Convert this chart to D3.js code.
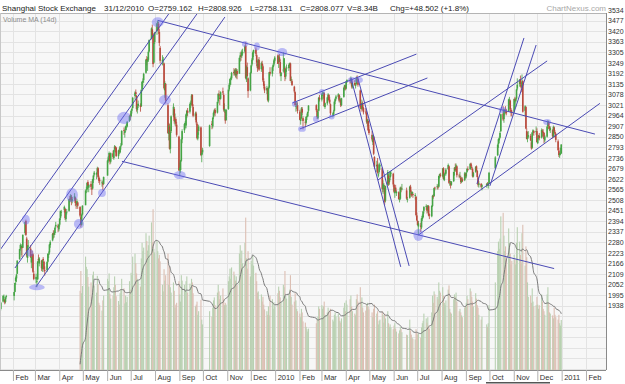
<!DOCTYPE html>
<html>
<head>
<meta charset="utf-8">
<script src="https://cdn.jsdelivr.net/npm/d3@7"></script>
<style>
body { margin: 0; background: #fff; }
svg { display: block; font-family: "Liberation Sans", Arial, sans-serif; }
</style>
</head>
<body>
<svg id="chart" width="625" height="384"></svg>
<script>
'use strict';

const title = 'Shanghai Stock Exchange';
const quote = ['31/12/2010', 'O=2759.162', 'H=2808.926', 'L=2758.131', 'C=2808.077', 'V=8.34B', 'Chg=+48.502 (+1.8%)'];
const brand = 'ChartNexus.com';
const volumeLabel = 'Volume MA (14d)';

// days the exchange was shut (besides weekends)
const holidays = [
    '2009-01-01', '2009-01-02', '2009-01-26', '2009-01-27', '2009-01-28', '2009-01-29', '2009-01-30',
    '2009-04-06', '2009-05-01', '2009-05-28', '2009-05-29',
    '2009-10-01', '2009-10-02', '2009-10-05', '2009-10-06', '2009-10-07', '2009-10-08',
    '2010-01-01', '2010-02-15', '2010-02-16', '2010-02-17', '2010-02-18', '2010-02-19',
    '2010-04-05', '2010-05-03', '2010-06-14', '2010-06-15', '2010-06-16',
    '2010-09-22', '2010-09-23', '2010-09-24',
    '2010-10-01', '2010-10-04', '2010-10-05', '2010-10-06', '2010-10-07'
];

// daily [open, high, low, close], one row per month (Jan 2009 starts on the 15th)
const prices2009 = [
    [[1935,1944,1905,1921],[1920,1958,1912,1954],[1960,1995,1955,1990],[1985,1998,1970,1986],[1970,1975,1945,1955],[1958,1985,1950,1981],[1985,1996,1976,1990]],
    [[1990,2012,1966,2011],[2012,2062,2010,2060],[2070,2095,2050,2088],[2085,2110,2065,2105],[2110,2182,2108,2181],[2190,2245,2185,2243],[2245,2274,2235,2265],[2250,2270,2210,2260],[2255,2262,2200,2248],[2250,2322,2250,2320],
     [2330,2390,2320,2389],[2395,2402,2314,2320],[2300,2310,2200,2209],[2195,2265,2170,2261],[2262,2292,2240,2262],[2245,2265,2195,2201],[2170,2215,2140,2200],[2215,2235,2180,2206],[2215,2220,2115,2121],[2110,2125,2075,2082]],
    [[2080,2110,2060,2093],[2070,2085,2037,2071],[2080,2180,2075,2176],[2190,2214,2170,2183],[2165,2200,2150,2193],[2180,2185,2125,2140],[2135,2185,2120,2183],[2190,2200,2165,2182],[2175,2180,2120,2133],[2130,2150,2100,2128],
     [2130,2178,2120,2173],[2175,2220,2170,2218],[2215,2230,2195,2217],[2225,2270,2215,2268],[2265,2290,2250,2281],[2290,2330,2285,2325],[2330,2345,2300,2320],[2320,2340,2305,2331],[2330,2365,2320,2358],[2365,2390,2355,2374],[2370,2380,2335,2359],[2350,2378,2340,2373]],
    [[2375,2410,2365,2408],[2410,2450,2400,2449],[2440,2455,2420,2444],[2455,2478,2440,2471],[2460,2465,2400,2410],[2405,2445,2390,2442],[2445,2460,2430,2445],[2450,2515,2445,2513],[2515,2530,2495,2514],[2510,2540,2500,2532],
     [2525,2535,2480,2505],[2505,2525,2490,2512],[2515,2545,2505,2528],[2520,2525,2475,2492],[2490,2500,2460,2483],[2485,2515,2470,2502],[2495,2500,2460,2477],[2470,2475,2415,2424],[2415,2425,2360,2374],[2375,2435,2370,2429],[2430,2480,2425,2477]],
    [[2480,2560,2480,2560],[2565,2580,2545,2567],[2565,2605,2550,2600],[2605,2615,2570,2584],[2575,2595,2550,2590],[2595,2610,2565,2579],[2570,2580,2535,2568],[2570,2622,2565,2620],[2615,2645,2600,2640],[2645,2665,2635,2656],
     [2645,2660,2620,2654],[2660,2688,2650,2680],[2680,2685,2625,2633],[2630,2640,2600,2612],[2615,2625,2590,2610],[2600,2615,2580,2603],[2600,2610,2560,2592],[2595,2635,2590,2632]],
    [[2640,2725,2640,2721],[2720,2745,2710,2738],[2740,2770,2730,2762],[2755,2760,2700,2716],[2715,2765,2705,2761],[2760,2775,2730,2741],[2735,2780,2725,2777],[2780,2805,2770,2797],[2795,2800,2765,2787],[2790,2795,2740,2746],
     [2745,2780,2730,2776],[2775,2790,2755,2770],[2765,2800,2760,2797],[2800,2815,2780,2802],[2805,2885,2800,2881],[2885,2900,2860,2881],[2870,2890,2845,2880],[2885,2910,2875,2906],[2905,2920,2885,2905],[2905,2935,2900,2930],[2935,2965,2930,2962],[2965,2975,2940,2959]],
    [[2960,2995,2955,2989],[2990,3005,2975,3000],[3005,3065,3000,3060],[3070,3095,3050,3088],[3090,3105,3065,3080],[3070,3075,2985,2999],[2995,3025,2975,3013],[3015,3045,3005,3028],[3020,3030,2985,3011],[3015,3105,3010,3103],
     [3105,3150,3095,3146],[3145,3165,3120,3152],[3155,3195,3140,3189],[3195,3270,3190,3266],[3270,3285,3235,3262],[3255,3280,3205,3266],[3265,3315,3255,3308],[3310,3375,3305,3372],[3380,3440,3375,3435],[3430,3455,3385,3398],[3400,3410,3225,3242],[3250,3365,3245,3357],[3360,3415,3350,3412]],
    [[3420,3465,3400,3462],[3465,3478,3425,3471],[3460,3470,3405,3428],[3415,3430,3340,3356],[3330,3340,3245,3260],[3255,3290,3235,3265],[3260,3280,3240,3266],[3245,3250,3105,3112],[3100,3150,3060,3140],[3135,3140,3030,3046],
     [3020,3030,2865,2870],[2865,2925,2830,2910],[2905,2920,2780,2785],[2785,2885,2760,2876],[2880,2965,2870,2960],[2965,3030,2955,3012],[3000,3010,2920,2934],[2930,2975,2910,2940],[2945,2955,2905,2920],[2915,2930,2850,2860],[2850,2855,2665,2668]],
    [[2670,2710,2639,2683],[2670,2725,2655,2721],[2720,2840,2715,2836],[2835,2890,2815,2880],[2885,2925,2870,2918],[2915,2935,2895,2923],[2910,2975,2895,2970],[2965,2995,2950,2990],[2990,3005,2960,2979],[2985,3035,2975,3026],
     [3025,3045,3005,3034],[3035,3080,3020,3072],[3075,3080,3010,3016],[3010,3025,2955,2963],[2960,2985,2940,2976],[2975,2985,2915,2927],[2920,2930,2835,2842],[2840,2890,2830,2874],[2880,2915,2860,2905],[2900,2905,2745,2751],[2750,2775,2712,2763],[2765,2790,2755,2779]],
    [[2800,2915,2795,2911],[2920,2935,2890,2913],[2905,2955,2895,2953],[2955,2985,2945,2979],[2980,3000,2965,2993],[2995,3005,2960,2976],[2980,3040,2975,3038],[3040,3085,3030,3081],[3080,3100,3060,3073],[3060,3075,3020,3054],
     [3055,3095,3050,3090],[3095,3115,3075,3088],[3075,3085,2985,2996],[2990,3030,2980,3000],[2985,2995,2920,2937],[2940,3000,2935,2995]],
    [[3000,3105,2995,3104],[3105,3140,3095,3130],[3130,3165,3120,3161],[3160,3175,3130,3166],[3165,3200,3155,3195],[3200,3220,3180,3193],[3190,3215,3180,3209],[3210,3220,3170,3183],[3180,3220,3165,3212],[3205,3215,3160,3187],
     [3190,3280,3190,3275],[3280,3305,3255,3289],[3290,3310,3260,3283],[3285,3320,3275,3308],[3300,3325,3290,3308],[3310,3345,3300,3338],[3340,3361,3160,3167],[3160,3235,3145,3228],[3225,3250,3170,3178],[3165,3170,3060,3096],[3100,3200,3095,3195]],
    [[3195,3240,3190,3235],[3240,3275,3230,3266],[3265,3310,3260,3305],[3300,3320,3280,3318],[3320,3332,3285,3298],[3290,3300,3230,3250],[3245,3260,3200,3220],[3225,3270,3215,3266],[3265,3280,3205,3212],[3215,3255,3200,3247],
     [3245,3260,3210,3233],[3230,3240,3145,3154],[3150,3165,3110,3125],[3120,3135,3085,3100],[3100,3125,3080,3113],[3110,3115,3040,3049],[3045,3120,3035,3114],[3115,3200,3110,3198],[3200,3225,3180,3190],[3190,3230,3175,3225],[3225,3245,3205,3238],[3240,3270,3230,3262],[3260,3285,3250,3277]]
];

const prices2010 = [
    [[3289,3295,3243,3243],[3254,3290,3221,3282],[3278,3296,3253,3255],[3253,3268,3176,3192],[3177,3198,3150,3196],[3211,3306,3197,3212],[3215,3275,3195,3273],[3220,3230,3150,3172],[3175,3215,3160,3215],[3218,3240,3200,3224],
     [3220,3245,3205,3237],[3237,3250,3220,3246],[3245,3250,3150,3151],[3155,3175,3140,3159],[3150,3160,3125,3128],[3120,3125,3085,3094],[3090,3095,3020,3020],[3015,3040,2985,3016],[3020,3040,3000,3024],[3020,3035,2975,2989]],
    [[2985,2995,2940,2941],[2935,2955,2915,2948],[2950,3010,2945,3003],[3000,3010,2965,2980],[2950,2960,2890,2935],[2930,2945,2900,2929],[2925,2960,2915,2957],[2960,2975,2940,2961],[2960,2985,2955,2985],[2990,3020,2980,3018],
     [3020,3025,2985,2993],[2990,3000,2945,2956],[2950,2995,2945,2985],[2990,3065,2985,3060],[3060,3075,3040,3051]],
    [[3050,3085,3040,3080],[3085,3095,3070,3087],[3080,3090,3055,3088],[3085,3090,3010,3015],[3010,3035,3000,3031],[3030,3065,3020,3062],[3060,3085,3050,3077],[3075,3080,3040,3047],[3050,3065,3025,3034],[3025,3030,2965,2976],
     [2970,2980,2955,2974],[2970,2995,2960,2986],[2990,3045,2985,3039],[3040,3060,3025,3054],[3055,3075,3045,3067],[3065,3085,3055,3079],[3075,3080,3035,3045],[3050,3070,3035,3056],[3050,3055,3010,3019],[3020,3060,3015,3057],[3065,3120,3060,3114],[3115,3130,3100,3128],[3125,3130,3100,3109]],
    [[3110,3150,3105,3148],[3150,3160,3140,3156],[3155,3165,3135,3150],[3150,3175,3140,3161],[3160,3165,3110,3121],[3120,3145,3110,3140],[3140,3155,3125,3130],[3125,3140,3110,3130],[3135,3175,3130,3166],[3170,3181,3155,3164],
     [3160,3165,3120,3130],[3100,3105,3000,3007],[3005,3020,2985,3001],[3000,3050,2995,3033],[3030,3040,2990,3004],[3005,3010,2970,2982],[2985,3005,2970,2981],[2980,2990,2920,2931],[2925,2945,2905,2942],[2935,2945,2880,2885],[2890,2915,2860,2870]],
    [[2860,2880,2825,2835],[2820,2860,2805,2857],[2850,2855,2750,2758],[2740,2745,2675,2688],[2690,2720,2660,2698],[2700,2735,2650,2656],[2640,2660,2630,2647],[2660,2710,2650,2700],[2690,2705,2670,2696],[2680,2685,2550,2568],
     [2565,2615,2540,2593],[2580,2600,2550,2587],[2575,2590,2481,2500],[2505,2585,2495,2583],[2590,2670,2585,2659],[2640,2650,2585,2597],[2605,2630,2590,2625],[2630,2665,2615,2660],[2655,2665,2635,2655],[2650,2655,2580,2592]],
    [[2590,2595,2545,2553],[2545,2575,2520,2571],[2575,2590,2550,2553],[2545,2560,2530,2553],[2550,2555,2510,2513],[2510,2525,2495,2513],[2515,2580,2510,2575],[2570,2580,2550,2569],[2570,2595,2560,2570],[2560,2575,2510,2516],
     [2510,2525,2495,2514],[2520,2585,2515,2580],[2580,2590,2550,2553],[2550,2560,2525,2533],[2540,2555,2530,2552],[2540,2550,2520,2535],[2530,2545,2510,2535],[2525,2530,2420,2427],[2425,2440,2395,2398]],
    [[2395,2400,2370,2373],[2365,2395,2319,2382],[2370,2385,2335,2364],[2360,2410,2350,2409],[2405,2430,2395,2422],[2415,2450,2410,2446],[2450,2475,2435,2470],[2470,2485,2455,2475],[2470,2480,2435,2450],[2455,2480,2440,2478],
     [2475,2480,2420,2425],[2430,2435,2405,2424],[2420,2480,2415,2476],[2475,2535,2470,2531],[2530,2540,2515,2527],[2530,2575,2525,2572],[2575,2580,2560,2572],[2580,2595,2565,2582],[2580,2590,2565,2576],[2580,2640,2575,2638],[2640,2650,2625,2647],[2645,2655,2630,2638]],
    [[2635,2680,2630,2679],[2680,2685,2620,2620],[2615,2650,2610,2648],[2650,2660,2640,2653],[2650,2680,2640,2672],[2675,2705,2670,2697],[2690,2695,2595,2601],[2605,2620,2585,2611],[2600,2610,2570,2588],[2590,2610,2585,2608],
     [2610,2660,2605,2661],[2665,2685,2640,2683],[2685,2705,2660,2670],[2675,2705,2665,2695],[2690,2695,2630,2642],[2640,2650,2625,2636],[2635,2660,2630,2636],[2630,2640,2595,2605],[2605,2630,2600,2619],[2620,2630,2605,2610],[2615,2660,2610,2652],[2650,2655,2625,2638]],
    [[2635,2660,2625,2656],[2660,2680,2655,2677],[2675,2690,2665,2671],[2675,2705,2670,2704],[2705,2710,2680,2689],[2685,2695,2670,2680],[2675,2680,2630,2636],[2635,2660,2630,2656],[2660,2690,2655,2688],[2690,2695,2665,2667],
     [2665,2670,2630,2632],[2630,2635,2580,2590],[2590,2610,2575,2598],[2595,2600,2570,2579],[2580,2595,2560,2588],[2590,2600,2575,2594],[2595,2605,2585,2588],[2585,2600,2570,2599],[2600,2660,2600,2655]],
    [[2680,2745,2675,2738],[2750,2812,2745,2806],[2810,2840,2790,2836],[2830,2850,2815,2842],[2845,2880,2840,2870],[2880,2975,2875,2971],[2975,3015,2935,2943],[2945,3000,2925,2995],[2980,3000,2965,2991],[2990,3015,2975,2984],
     [2985,3000,2965,2976],[2985,3055,2985,3051],[3050,3065,3020,3050],[3045,3050,2985,2997],[2995,3005,2960,2982],[2985,2995,2960,2979]],
    [[2985,3055,2980,3054],[3055,3065,3030,3043],[3040,3060,3010,3052],[3055,3110,3050,3105],[3110,3165,3100,3130],[3135,3160,3120,3159],[3160,3180,3120,3135],[3130,3140,3090,3115],[3120,3186,3110,3148],[3150,3155,2980,2985],
     [2990,3020,2960,3014],[3010,3015,2890,2894],[2880,2895,2835,2838],[2840,2875,2820,2852],[2850,2880,2840,2858],[2855,2865,2825,2830],[2820,2830,2780,2787],[2790,2875,2785,2873],[2875,2890,2860,2884],[2880,2885,2855,2871],[2875,2905,2860,2880],[2880,2895,2820,2820]],
    [[2815,2850,2810,2843],[2845,2860,2835,2857],[2855,2870,2830,2842],[2845,2895,2840,2886],[2880,2890,2850,2875],[2875,2890,2855,2872],[2870,2875,2815,2837],[2830,2860,2820,2851],[2850,2910,2845,2904],[2905,2940,2895,2931],
     [2925,2935,2890,2911],[2905,2910,2880,2891],[2885,2905,2870,2896],[2885,2890,2840,2852],[2850,2910,2845,2903],[2900,2905,2870,2877],[2875,2885,2845,2866],[2865,2870,2820,2833],[2825,2835,2775,2777],[2775,2790,2740,2751],[2750,2765,2735,2760],[2760,2790,2750,2760],[2759,2809,2758,2808]]
];

// daily volume in billions of shares, one row per month, April 2009 onwards (April from the 27th)
const volume2009 = [
    [13.2, 16.5, 12.8, 14.0],
    [18.9, 17.2, 16.8, 15.5, 13.9, 14.6, 12.2, 15.8, 16.4, 14.1, 12.9, 15.7, 14.3, 11.2, 10.8, 9.9, 11.6, 12.4],
    [15.2, 14.8, 16.1, 12.7, 11.9, 12.4, 13.8, 15.6, 14.2, 12.3, 11.5, 10.9, 12.8, 13.4, 15.2, 13.6, 11.1, 12.4, 11.3, 12.2, 14.8, 13.4],
    [16.2, 15.8, 18.9, 19.4, 17.8, 16.1, 15.2, 14.8, 13.9, 18.6, 21.2, 19.8, 20.4, 22.8, 21.5, 19.9, 20.8, 22.4, 24.6, 21.3, 26.8, 20.2, 19.6],
    [21.5, 19.8, 18.6, 19.2, 18.1, 14.2, 13.1, 16.8, 14.9, 15.8, 19.4, 14.2, 17.3, 13.8, 12.9, 14.6, 13.2, 10.4, 10.9, 11.2, 14.8],
    [12.6, 11.4, 15.8, 14.9, 14.2, 13.1, 14.8, 15.6, 12.9, 14.4, 13.8, 15.2, 14.6, 12.8, 10.6, 10.9, 11.4, 9.2, 9.8, 11.7, 8.4, 7.6],
    [9.8, 8.9, 10.4, 11.6, 12.1, 10.8, 12.9, 14.2, 13.1, 11.8, 12.4, 13.6, 11.9, 10.8, 11.2, 10.9],
    [14.8, 15.6, 16.9, 15.2, 17.1, 16.4, 15.8, 14.9, 15.6, 14.2, 19.4, 20.8, 18.6, 19.9, 17.8, 21.2, 25.4, 18.6, 16.9, 19.8, 15.6],
    [18.2, 17.6, 19.1, 17.4, 16.2, 14.8, 12.9, 13.1, 11.8, 12.6, 11.4, 12.2, 10.9, 10.1, 9.8, 9.2, 10.6, 9.1, 12.4, 11.8, 10.2, 11.3, 10.6]
];

const volume2010 = [
    [12.8, 13.9, 13.2, 12.1, 11.4, 14.2, 13.8, 16.5, 12.4, 11.9, 12.6, 13.4, 15.8, 12.2, 10.9, 11.4, 12.8, 11.6, 10.2, 9.8],
    [9.4, 8.8, 10.2, 9.6, 8.1, 7.9, 7.2, 6.8, 6.4, 6.9, 7.8, 8.4, 8.9, 10.6, 10.2],
    [10.8, 10.2, 10.6, 11.4, 9.2, 9.6, 10.4, 9.8, 9.1, 10.2, 8.4, 8.1, 9.2, 9.6, 8.9, 9.4, 8.8, 8.2, 7.9, 8.6, 10.4, 11.2, 9.8],
    [11.6, 10.9, 11.8, 12.4, 10.6, 9.8, 9.4, 9.1, 11.8, 12.6, 11.4, 13.8, 11.2, 12.1, 10.4, 9.6, 9.9, 10.8, 11.2, 10.6, 10.1],
    [9.6, 8.8, 10.2, 10.9, 9.4, 9.8, 7.6, 8.2, 8.4, 9.8, 9.2, 7.9, 9.4, 8.6, 9.8, 7.8, 7.2, 7.6, 7.1, 6.8],
    [7.4, 7.8, 6.9, 6.4, 6.1, 6.6, 7.2, 6.8, 6.3, 5.9, 5.8, 8.4, 6.6, 5.9, 5.4, 5.2, 5.1, 6.8, 6.2],
    [5.9, 6.1, 5.4, 7.1, 7.8, 8.2, 9.4, 8.6, 7.9, 8.8, 7.4, 6.9, 9.6, 12.4, 11.2, 13.1, 12.6, 12.2, 11.8, 14.6, 13.2, 12.9],
    [13.8, 12.4, 11.2, 10.8, 11.6, 13.4, 14.1, 10.2, 9.6, 9.4, 11.8, 12.6, 12.2, 12.9, 11.4, 9.8, 10.2, 9.6, 9.1, 8.8, 10.4, 10.6],
    [11.2, 12.4, 11.8, 13.6, 13.1, 12.2, 11.4, 10.6, 12.8, 11.9, 10.8, 10.4, 9.2, 8.4, 8.9, 7.6, 7.2, 7.8, 10.8],
    [14.6, 19.8, 21.4, 20.2, 21.9, 25.6, 26.2, 22.4, 19.8, 20.6, 18.4, 23.6, 21.2, 19.4, 17.6, 18.2],
    [19.2, 18.4, 17.6, 21.2, 23.8, 21.4, 19.2, 17.9, 22.8, 24.2, 17.4, 20.6, 18.8, 14.6, 12.2, 12.4, 11.2, 13.6, 11.4, 10.6, 10.8, 12.2],
    [10.9, 10.2, 10.8, 12.6, 11.4, 10.2, 9.8, 9.2, 12.6, 13.8, 11.2, 9.6, 9.4, 9.1, 8.6, 10.4, 9.2, 8.8, 8.4, 9.2, 7.8, 7.4, 8.34]
];

const yTicks = [3534, 3477, 3420, 3363, 3305, 3249, 3192, 3135, 3078, 3021, 2964, 2907, 2850, 2793,
    2736, 2679, 2622, 2565, 2508, 2451, 2394, 2337, 2280, 2223, 2166, 2109, 2052, 1995, 1938];
const xTickLabels = ['Feb', 'Mar', 'Apr', 'May', 'Jun', 'Jul', 'Aug', 'Sep', 'Oct', 'Nov', 'Dec', '2010',
    'Feb', 'Mar', 'Apr', 'May', 'Jun', 'Jul', 'Aug', 'Sep', 'Oct', 'Nov', 'Dec', '2011', 'Feb'];

// drawn trend lines: [from date, from value, to date, to value]
const trendLines = [
    ['2009-01-15 12', 2238, '2009-08-22 00', 3534],
    ['2009-02-03 12', 2141, '2009-09-27 00', 3534],
    ['2009-03-02 07', 2039, '2009-10-29 00', 3496],
    ['2009-08-04 12', 3478, '2011-02-12 10', 2864],
    ['2009-06-19 21', 2717, '2010-12-22 10', 2138],
    ['2010-01-23 00', 3032, '2010-06-30 00', 3296],
    ['2010-02-01 14', 2892, '2010-07-14 00', 3167],
    ['2010-04-07 14', 3167, '2010-06-10 00', 2147],
    ['2010-04-16 00', 3172, '2010-06-20 17', 2152],
    ['2010-07-02 12', 2319, '2011-02-18 19', 3030],
    ['2010-05-12 00', 2616, '2010-12-13 12', 3259],
    ['2010-09-15 02', 2595, '2010-11-14 00', 3383],
    ['2010-10-01 14', 2584, '2010-11-29 12', 3345]
];

// highlighted turning points: [date, value, half width in days, half height in points]
const marks = [
    ['2009-02-17 12', 2402, 5, 27], ['2009-02-22 17', 2222, 4.5, 19], ['2009-03-03 12', 2037, 10, 16],
    ['2009-04-17 05', 2535, 7.6, 38], ['2009-04-26 00', 2379, 6.4, 27], ['2009-05-25 10', 2546, 5, 22],
    ['2009-06-22 17', 2951, 9, 33], ['2009-08-04 12', 3468, 7.6, 27], ['2009-08-13 15', 3048, 7.6, 27],
    ['2009-09-01 12', 2643, 7.6, 22], ['2009-11-23 12', 3350, 3.8, 16], ['2009-12-08 19', 3337, 3.8, 22],
    ['2010-01-10 00', 3307, 6.4, 22], ['2010-01-26 05', 3027, 3.8, 16], ['2010-02-04 05', 2892, 5, 16],
    ['2010-02-22 00', 2946, 3.8, 16], ['2010-03-01 15', 3091, 3.8, 16], ['2010-03-14 00', 2956, 3.8, 13],
    ['2010-04-08 19', 3156, 5, 16], ['2010-04-17 19', 3156, 5, 16], ['2010-07-02 12', 2319, 6.4, 32],
    ['2010-10-17 22', 2994, 5, 16], ['2010-12-13 12', 2929, 5, 16]
];

const W = 625, H = 384,
    plotL = 0, plotR = 606, plotT = 13, plotB = 370,
    upColor = '#45a445', downColor = '#b8493b',
    volUp = '#b9d1b2', volDown = '#dcbfb3',
    lineColor = '#4a4ab4';

const dayKey = d3.timeFormat('%Y-%m-%d');
const parseMark = d3.timeParse('%Y-%m-%d %H');
const holidaySet = new Set(holidays);

function tradingDays(year, month) {
    return d3.timeDay.range(new Date(year, month, 1), new Date(year, month + 1, 1))
        .filter(d => d.getDay() % 6 !== 0 && !holidaySet.has(dayKey(d)));
}

// pair each month's rows with that month's trading days (a short row fills the month's end)
function attach(months, year, firstMonth, build) {
    const out = [];
    months.forEach((rows, i) => {
        const days = tradingDays(year, firstMonth + i);
        const off = Math.max(0, days.length - rows.length);
        rows.forEach((r, j) => {
            const d = days[off + j];
            if (d) out.push(build(d3.timeHour.offset(d, 12), r));
        });
    });
    return out;
}

const toCandle = (date, r) => ({ date, open: r[0], high: r[1], low: r[2], close: r[3], up: r[3] >= r[0] });
const candles = attach(prices2009, 2009, 0, toCandle).concat(attach(prices2010, 2010, 0, toCandle));
const upByDay = new Map(candles.map(c => [dayKey(c.date), c.up]));

const toVolume = (date, v) => ({ date, value: v, up: upByDay.get(dayKey(date)) !== false });
const volumes = attach(volume2009, 2009, 3, toVolume).concat(attach(volume2010, 2010, 0, toVolume));
volumes.forEach((v, i) => {
    v.ma = d3.sum(volumes.slice(Math.max(0, i - 13), i + 1), d => d.value) / 14;
});

const x = d3.scaleTime()
    .domain([new Date(2009, 0, 15, 12), new Date(2011, 1, 26, 12)])
    .range([plotL, plotR]);
const y = d3.scaleLinear().domain([1938, 3534]).range([305.6, 10]);
const yVol = d3.scaleLinear().domain([0, 25]).range([plotB, 220]);

const svg = d3.select('#chart');
svg.append('rect').attr('width', W).attr('height', H).attr('fill', '#fff');

svg.append('defs').append('clipPath').attr('id', 'plot-clip')
    .append('rect').attr('x', plotL).attr('y', plotT)
    .attr('width', plotR - plotL).attr('height', plotB - plotT);

svg.append('rect')
    .attr('x', plotL).attr('y', plotT)
    .attr('width', plotR - plotL).attr('height', plotB - plotT)
    .attr('fill', '#f7f7f7');

const plot = svg.append('g').attr('clip-path', 'url(#plot-clip)');

// grid
const monthDates = d3.timeMonth.range(new Date(2009, 1, 1), new Date(2011, 1, 2));
const gridValues = d3.range(1938 - 57 * 6, 3534 + 1, 57);
plot.append('g').selectAll('line').data(gridValues).join('line')
    .attr('x1', plotL).attr('x2', plotR)
    .attr('y1', d => Math.round(y(d)) + 0.5).attr('y2', d => Math.round(y(d)) + 0.5)
    .attr('stroke', '#e3e3e3').attr('stroke-width', 1);
plot.append('g').selectAll('line').data(monthDates).join('line')
    .attr('x1', d => Math.round(x(d)) + 0.5).attr('x2', d => Math.round(x(d)) + 0.5)
    .attr('y1', plotT).attr('y2', plotB)
    .attr('stroke', '#e3e3e3').attr('stroke-width', 1);

// volume
plot.append('g').selectAll('rect').data(volumes).join('rect')
    .attr('x', d => x(d.date) - 0.55)
    .attr('width', 1.1)
    .attr('y', d => yVol(d.value))
    .attr('height', d => plotB - yVol(d.value))
    .attr('fill', d => d.up ? volUp : volDown);

plot.append('path')
    .datum(volumes)
    .attr('fill', 'none')
    .attr('stroke', '#7a7a7a')
    .attr('stroke-width', 1)
    .attr('d', d3.line().x(d => x(d.date)).y(d => yVol(d.ma)).curve(d3.curveMonotoneX));

// candles
const candleG = plot.append('g');
candleG.selectAll('line').data(candles).join('line')
    .attr('x1', d => x(d.date)).attr('x2', d => x(d.date))
    .attr('y1', d => y(d.high)).attr('y2', d => y(d.low))
    .attr('stroke', d => d.up ? upColor : downColor)
    .attr('stroke-width', 0.8);
candleG.selectAll('rect').data(candles).join('rect')
    .attr('x', d => x(d.date) - 0.8)
    .attr('width', 1.6)
    .attr('y', d => y(Math.max(d.open, d.close)))
    .attr('height', d => Math.max(0.8, Math.abs(y(d.open) - y(d.close))))
    .attr('fill', d => d.up ? upColor : downColor);

// trend lines
plot.append('g').selectAll('line').data(trendLines).join('line')
    .attr('x1', d => x(parseMark(d[0]))).attr('y1', d => y(d[1]))
    .attr('x2', d => x(parseMark(d[2]))).attr('y2', d => y(d[3]))
    .attr('stroke', lineColor)
    .attr('stroke-width', 1);

// highlighted points
plot.append('g').selectAll('ellipse').data(marks).join('ellipse')
    .attr('cx', d => x(parseMark(d[0])))
    .attr('cy', d => y(d[1]))
    .attr('rx', d => { const t = parseMark(d[0]); return x(d3.timeHour.offset(t, d[2] * 24)) - x(t); })
    .attr('ry', d => y(d[1] - d[3]) - y(d[1]))
    .attr('fill', '#6c6cf2')
    .attr('fill-opacity', 0.45);

// frame
svg.append('line').attr('x1', plotL).attr('x2', plotR).attr('y1', plotT + 0.5).attr('y2', plotT + 0.5)
    .attr('stroke', '#b4b4b4');
svg.append('line').attr('x1', plotL + 0.5).attr('x2', plotL + 0.5).attr('y1', plotT).attr('y2', plotB)
    .attr('stroke', '#c8c8c8');

// price axis
const yAxis = svg.append('g')
    .attr('transform', `translate(${plotR},0)`)
    .call(d3.axisRight(y).tickValues(yTicks).tickSize(0).tickPadding(2).tickFormat(d3.format('d')));
yAxis.select('.domain').remove();
yAxis.append('line').attr('x1', 0.5).attr('x2', 0.5).attr('y1', plotT).attr('y2', plotB)
    .attr('stroke', '#8a8a8a');
yAxis.selectAll('text')
    .attr('font-size', 7)
    .attr('font-family', '"Liberation Sans", Arial, sans-serif')
    .attr('fill', '#333');

// time axis
const xAxis = svg.append('g')
    .attr('transform', `translate(0,${plotB})`)
    .call(d3.axisBottom(x).tickValues(monthDates).tickSize(11).tickFormat((d, i) => xTickLabels[i]));
xAxis.select('.domain').attr('d', `M${plotL},0.5H${plotR}`).attr('stroke', '#8a8a8a');
xAxis.selectAll('.tick line').attr('stroke', '#b0b0b0');
xAxis.selectAll('.tick text')
    .attr('x', 2).attr('y', 4.5)
    .attr('text-anchor', 'start')
    .attr('font-size', 7.5)
    .attr('font-family', '"Liberation Sans", Arial, sans-serif')
    .attr('fill', '#333');

svg.append('rect').attr('x', 486).attr('y', 382).attr('width', 64).attr('height', 1.5).attr('fill', '#555');

// header
const header = svg.append('g').attr('font-size', 8).attr('fill', '#222');
header.append('text').attr('x', 2).attr('y', 10.5).text(title);
const quoteX = [104, 148, 198, 250, 300, 347, 390];
header.selectAll('.quote').data(quote).join('text')
    .attr('class', 'quote')
    .attr('x', (d, i) => quoteX[i]).attr('y', 10.5)
    .text(d => d);
header.append('text').attr('x', plotR).attr('y', 10.5)
    .attr('text-anchor', 'end').attr('fill', '#a8a8a8').text(brand);

svg.append('text').attr('x', 3).attr('y', 21.5)
    .attr('font-size', 7).attr('fill', '#8c8c8c')
    .text(volumeLabel);
</script>
</body>
</html>
